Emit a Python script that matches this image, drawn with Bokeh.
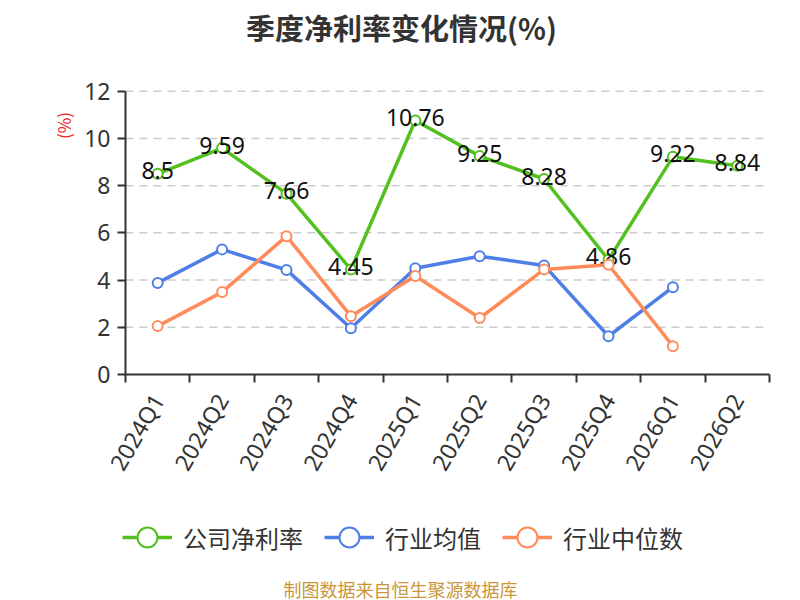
import math
from bokeh.plotting import figure
from bokeh.models import (Range1d, LinearAxis, FixedTicker, Label, Legend, LegendItem)
from bokeh.core.properties import value
from bokeh.embed import file_html
from bokeh.resources import INLINE

# ---- data ----
quarters = ["2024Q1", "2024Q2", "2024Q3", "2024Q4", "2025Q1",
            "2025Q2", "2025Q3", "2025Q4", "2026Q1", "2026Q2"]
company_margin = [8.5, 9.59, 7.66, 4.45, 10.76, 9.25, 8.28, 4.86, 9.22, 8.84]
industry_avg = [3.88, 5.30, 4.43, 1.96, 4.50, 5.01, 4.62, 1.62, 3.70]
industry_median = [2.05, 3.49, 5.86, 2.47, 4.17, 2.39, 4.45, 4.65, 1.20]
y_ticks = [0, 2, 4, 6, 8, 10, 12]
series_names = ["公司净利率", "行业均值", "行业中位数"]

GREEN = "#52c11f"
BLUE = "#4e7fe6"
ORANGE = "#ff8b5b"
CJK = "Noto Sans CJK SC"
NUM = "Noto Sans"

W, H = 800, 600
# plot-area geometry in canvas pixels
PL, PR, PT, PB = 125, 769, 90.7, 374
n = len(quarters)
xpos = list(range(1, n + 1))
x_lo, x_hi = 0.5, n + 0.5
y_lo, y_hi = y_ticks[0], y_ticks[-1]
xs = (PR - PL) / (x_hi - x_lo)
ys = (PB - PT) / (y_hi - y_lo)
x_range = Range1d(x_lo - PL / xs, x_hi + (W - PR) / xs)
y_range = Range1d(y_lo - (H - PB) / ys, y_hi + PT / ys)


def cx(px):
    return x_lo + (px - PL) / xs


def cy(py):
    return y_lo + (PB - py) / ys


p = figure(width=W, height=H, output_backend="svg", toolbar_location=None,
           tools="", x_range=x_range, y_range=y_range,
           x_axis_type=None, y_axis_type=None, min_border=0)
p.outline_line_color = None
p.background_fill_color = "white"
p.xgrid.visible = False
p.ygrid.visible = False

# dashed horizontal grid lines
p.segment(x0=x_lo, x1=x_hi, y0=y_ticks[1:], y1=y_ticks[1:], line_color="#cccccc",
          line_width=1.5, line_dash="8 6")

# axes (fixed at the plot-area edges)
xaxis = LinearAxis(ticker=FixedTicker(ticks=xpos, minor_ticks=[i + 0.5 for i in range(0, n + 1)]),
                   fixed_location=y_lo, bounds=(x_lo, x_hi))
xaxis.major_label_overrides = {i: q for i, q in zip(xpos, quarters)}
xaxis.major_tick_out = 0
xaxis.major_tick_in = 0
xaxis.minor_tick_out = 8
xaxis.minor_tick_in = 0
xaxis.minor_tick_line_color = "#333333"
xaxis.minor_tick_line_width = 2
xaxis.axis_line_color = "#333333"
xaxis.axis_line_width = 2
xaxis.major_label_orientation = math.pi / 3
xaxis.major_label_text_font = NUM
xaxis.major_label_text_font_size = "23px"
xaxis.major_label_text_color = "#333333"
xaxis.major_label_standoff = 13
p.add_layout(xaxis, "below")

yaxis = LinearAxis(ticker=FixedTicker(ticks=y_ticks, minor_ticks=[]),
                   fixed_location=x_lo, bounds=(y_lo, y_hi))
yaxis.major_tick_out = 8
yaxis.major_tick_in = 0
yaxis.major_tick_line_color = "#333333"
yaxis.major_tick_line_width = 2
yaxis.axis_line_color = "#333333"
yaxis.axis_line_width = 2
yaxis.major_label_text_font = NUM
yaxis.major_label_text_font_size = "23px"
yaxis.major_label_text_color = "#333333"
yaxis.major_label_standoff = 7
p.add_layout(yaxis, "left")

# series
l1 = p.line(xpos, company_margin, line_color=GREEN, line_width=3.5)
s1 = p.scatter(xpos, company_margin, size=10, fill_color="white", line_color=GREEN, line_width=2)
p.text(xpos, company_margin, text=[f"{v:g}" for v in company_margin],
       text_align="center", text_baseline="middle", y_offset=-3,
       text_font=value(NUM), text_font_size="23px", text_color="#111111")

xa = xpos[:len(industry_avg)]
l2 = p.line(xa, industry_avg, line_color=BLUE, line_width=3.5)
s2 = p.scatter(xa, industry_avg, size=10, fill_color="white", line_color=BLUE, line_width=2)

xm = xpos[:len(industry_median)]
l3 = p.line(xm, industry_median, line_color=ORANGE, line_width=3.5)
s3 = p.scatter(xm, industry_median, size=10, fill_color="white", line_color=ORANGE, line_width=2)

# legend
legend = Legend(items=[LegendItem(label=series_names[0], renderers=[l1, s1]),
                       LegendItem(label=series_names[1], renderers=[l2, s2]),
                       LegendItem(label=series_names[2], renderers=[l3, s3])],
                orientation="horizontal", location=(122, H - 565))
legend.glyph_width = 50
legend.glyph_height = 56
legend.label_standoff = 11
legend.spacing = 21
legend.padding = 0
legend.margin = 0
legend.border_line_color = None
legend.background_fill_alpha = 0
legend.label_text_font = CJK
legend.label_text_font_size = "24px"
legend.label_text_color = "#333333"
p.add_layout(legend)

# title, axis name, footer
p.add_layout(Label(x=cx(401), y=cy(26.5), text="季度净利率变化情况(%)", text_align="center",
                   text_baseline="middle", text_font=CJK, text_font_size="29px",
                   text_font_style="bold", text_color="#333333"))
p.add_layout(Label(x=cx(63), y=cy(125), text="(%)", angle=math.pi / 2, text_align="center",
                   text_baseline="middle", text_font=CJK, text_font_size="17px",
                   text_color="#ee2222"))
p.add_layout(Label(x=cx(400), y=cy(588), text="制图数据来自恒生聚源数据库", text_align="center",
                   text_baseline="middle", text_font=CJK, text_font_size="18px",
                   text_color="#c9973a"))

open("out.html", "w").write(file_html(p, INLINE))
